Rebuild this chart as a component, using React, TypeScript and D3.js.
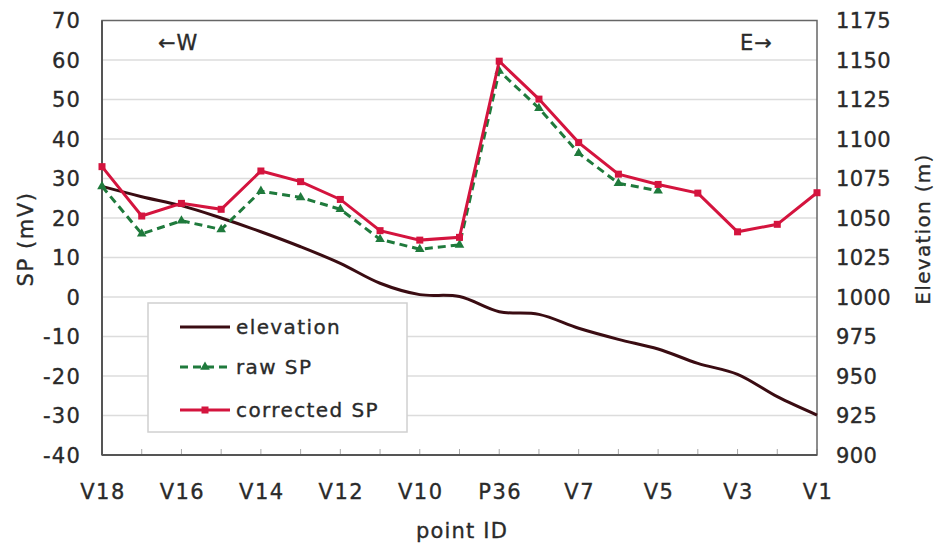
import React from "react";
import * as d3 from "d3";

const categories = ["V18","V17","V16","V15","V14","V13","V12","V11","V10","V9","P36","V8","V7","V6","V5","V4","V3","V2","V1"];
const tickLabels = ["V18","V16","V14","V12","V10","P36","V7","V5","V3","V1"];
const elevation = [1070,1063.5,1057.8,1050,1041.3,1031.8,1021.3,1008.7,1001.5,1000.3,990.7,989,980.2,973.2,967.1,958,951.1,936.9,925.3];
const rawSP: (number | null)[] = [28,16,19.3,17.1,26.8,25.2,22.2,14.6,12.1,13.2,57.2,47.8,36.4,28.8,26.9,null,null,null,null];
const correctedSP = [33,20.5,23.7,22.2,31.9,29.2,24.7,16.8,14.4,15.1,59.7,50.1,39.1,31.1,28.5,26.3,16.5,18.4,26.4];
const leftTicks = [70,60,50,40,30,20,10,0,-10,-20,-30,-40];
const rightTicks = [1175,1150,1125,1100,1075,1050,1025,1000,975,950,925,900];
const legendItems = ["elevation","raw SP","corrected SP"];

const W = 938, H = 548;
const L = 102, R = 817, T = 20.5, B = 455;
const FONT = "'DejaVu Sans', Verdana, sans-serif";
const RED = "#d4143e";
const GREEN = "#1f7a3c";
const DARK = "#3a0c12";
const TXT = "#2a2a2a";

export default function App() {
  const x = d3.scalePoint<string>().domain(categories).range([L, R]);
  const yL = d3.scaleLinear().domain([-40, 70]).range([B, T]);
  const yR = d3.scaleLinear().domain([900, 1175]).range([B, T]);

  const elevLine = d3.line<number>()
    .x((_, i) => x(categories[i]) as number)
    .y((d) => yR(d))
    .curve(d3.curveCatmullRom.alpha(0.5));
  const spLine = (vals: (number | null)[]) => d3.line<number | null>()
    .defined((d) => d !== null)
    .x((_, i) => x(categories[i]) as number)
    .y((d) => yL(d as number))(vals) as string;

  const tri = d3.symbol().type(d3.symbolTriangle).size(40)() as string;

  const legY = [327, 367, 410];
  const txtStyle = { stroke: TXT, strokeWidth: 0.35 } as const;

  return (
    <svg width={W} height={H} style={{ position: "absolute", left: 0, top: 0, background: "#fff" }}
      fontFamily={FONT}>
      <rect x={0} y={0} width={W} height={H} fill="#fff" />
      {/* grid */}
      {leftTicks.filter(t => t !== 70 && t !== -40).map(t => (
        <line key={t} x1={L} x2={R} y1={yL(t)} y2={yL(t)} stroke="#dcdcdc" strokeWidth={1.5} />
      ))}
      {/* bottom ticks */}
      {categories.map(c => (
        <line key={c} x1={x(c)} x2={x(c)} y1={B} y2={B - 6} stroke="#aaa" strokeWidth={1} />
      ))}
      {/* border */}
      <rect x={L} y={T} width={R - L} height={B - T} fill="none" stroke="#666" strokeWidth={1.5} />
      <line x1={L} x2={L} y1={T} y2={B} stroke="#555" strokeWidth={2} />
      <line x1={L} x2={R} y1={B} y2={B} stroke="#555" strokeWidth={2} />

      {/* tick labels */}
      {leftTicks.map(t => (
        <text key={t} x={81} y={yL(t)} dy="0.36em" textAnchor="end" fontSize={21} letterSpacing={1.2} fill={TXT} {...txtStyle}>{t}</text>
      ))}
      {rightTicks.map(t => (
        <text key={t} x={836} y={yR(t)} dy="0.36em" textAnchor="start" fontSize={21} letterSpacing={0.4} fill={TXT} {...txtStyle}>{t}</text>
      ))}
      {tickLabels.map(c => (
        <text key={c} x={(x(c) as number) + 1} y={491} dy="0.36em" textAnchor="middle" fontSize={21} letterSpacing={1.5} fill={TXT} {...txtStyle}>{c}</text>
      ))}

      {/* axis titles */}
      <text transform={`translate(25,239) rotate(-90)`} textAnchor="middle" dy="0.36em" fontSize={21} letterSpacing={1.6} fill={TXT} {...txtStyle}>SP (mV)</text>
      <text transform={`translate(923,229) rotate(-90)`} textAnchor="middle" dy="0.36em" fontSize={20} letterSpacing={1.3} fill={TXT} {...txtStyle}>Elevation (m)</text>
      <text x={462} y={530} textAnchor="middle" dy="0.36em" fontSize={21} letterSpacing={1.2} fill={TXT} {...txtStyle}>point ID</text>

      <text x={158} y={42} dy="0.36em" fontSize={21} letterSpacing={1} fill={TXT} {...txtStyle}>←W</text>
      <text x={740} y={42} dy="0.36em" fontSize={21} letterSpacing={1} fill={TXT} {...txtStyle}>E→</text>

      {/* elevation */}
      <path d={elevLine(elevation) as string} fill="none" stroke={DARK} strokeWidth={3} />
      {/* raw SP */}
      <path d={spLine(rawSP)} fill="none" stroke={GREEN} strokeWidth={3} strokeDasharray="8,5" />
      {rawSP.map((v, i) => v === null ? null : (
        <path key={i} d={tri} transform={`translate(${x(categories[i])},${yL(v)})`} fill={GREEN} />
      ))}
      {/* corrected SP */}
      <path d={spLine(correctedSP)} fill="none" stroke={RED} strokeWidth={3} />
      {correctedSP.map((v, i) => (
        <rect key={i} x={(x(categories[i]) as number) - 3.5} y={yL(v) - 3.5} width={7} height={7} fill={RED} />
      ))}

      {/* legend */}
      <rect x={148} y={303} width={259} height={129} fill="#fff" stroke="#d0d0d0" strokeWidth={1.5} />
      <line x1={180} x2={230} y1={legY[0]} y2={legY[0]} stroke={DARK} strokeWidth={3} />
      <line x1={180} x2={230} y1={legY[1]} y2={legY[1]} stroke={GREEN} strokeWidth={3} strokeDasharray="8,5" />
      <path d={tri} transform={`translate(205,${legY[1]})`} fill={GREEN} />
      <line x1={180} x2={230} y1={legY[2]} y2={legY[2]} stroke={RED} strokeWidth={3} />
      <rect x={201.5} y={legY[2] - 3.5} width={7} height={7} fill={RED} />
      {legendItems.map((s, i) => (
        <text key={s} x={236} y={legY[i]} dy="0.36em" fontSize={20} letterSpacing={1.4} fill={TXT} {...txtStyle}>{s}</text>
      ))}
    </svg>
  );
}
